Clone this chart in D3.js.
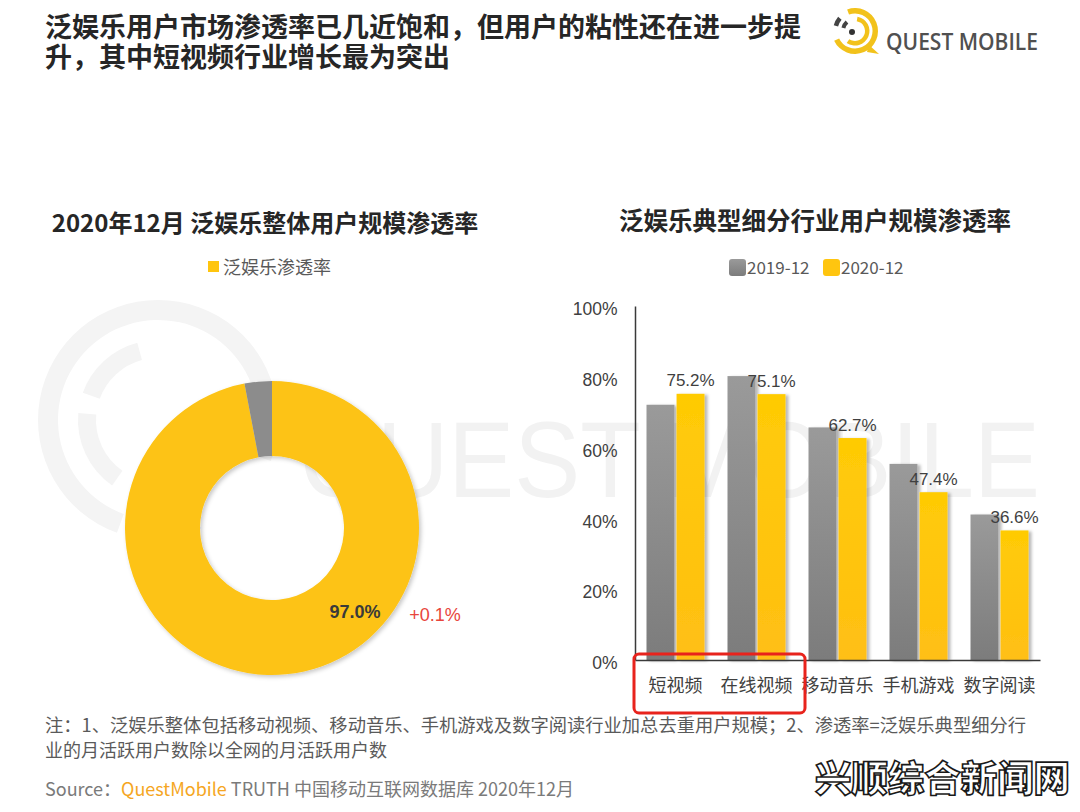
<!DOCTYPE html>
<html><head><meta charset="utf-8">
<script src="https://cdn.jsdelivr.net/npm/d3@7"></script>
<style>
html,body{margin:0;padding:0;background:#fff;}
svg{display:block;}
</style></head>
<body>
<svg id="chart" width="1080" height="812"></svg>
<script>
// ---------- data ----------
const titleLines = ["泛娱乐用户市场渗透率已几近饱和，但用户的粘性还在进一步提", "升，其中短视频行业增长最为突出"];
const logoText = "QUEST MOBILE";
const leftTitle = "2020年12月 泛娱乐整体用户规模渗透率";
const donutLegend = "泛娱乐渗透率";
const donutNames = ["泛娱乐渗透率", "其他"];
const donutValues = [97.0, 3.0];
const donutValueLabel = "97.0%";
const donutChangeLabel = "+0.1%";
const rightTitle = "泛娱乐典型细分行业用户规模渗透率";
const categories = ["短视频", "在线视频", "移动音乐", "手机游戏", "数字阅读"];
const seriesNames = ["2019-12", "2020-12"];
const values2019 = [72.1, 80.2, 65.7, 55.4, 41.1];
const values2020 = [75.2, 75.1, 62.7, 47.4, 36.6];
const yTicks = [0, 20, 40, 60, 80, 100];
const noteLines = ["注：1、泛娱乐整体包括移动视频、移动音乐、手机游戏及数字阅读行业加总去重用户规模；2、渗透率=泛娱乐典型细分行", "业的月活跃用户数除以全网的月活跃用户数"];
const sourceParts = ["Source：", "QuestMobile", " TRUTH 中国移动互联网数据库 2020年12月"];
const siteMark = "兴顺综合新闻网";

// ---------- setup ----------
const CJK = "'Noto Sans CJK SC','Noto Sans',sans-serif";
const LAT = "'Liberation Sans',Arial,sans-serif";
const YEL = "#FFC50F", GRY = "#8c8c8c";
const svg = d3.select("#chart");
svg.append("rect").attr("width",1080).attr("height",812).attr("fill","#fff");

const defs = svg.append("defs");
const gG = defs.append("linearGradient").attr("id","gGray").attr("x1",0).attr("y1",0).attr("x2",0).attr("y2",1);
gG.append("stop").attr("offset","0%").attr("stop-color","#9a9a9a");
gG.append("stop").attr("offset","100%").attr("stop-color","#7c7c7c");
const gY = defs.append("linearGradient").attr("id","gYel").attr("x1",0).attr("y1",0).attr("x2",0).attr("y2",1);
gY.append("stop").attr("offset","0%").attr("stop-color","#FFCB05");
gY.append("stop").attr("offset","100%").attr("stop-color","#FFBF14");
const sh = defs.append("filter").attr("id","shadow").attr("x","-20%").attr("y","-20%").attr("width","160%").attr("height","140%");
sh.append("feDropShadow").attr("dx",3).attr("dy",1).attr("stdDeviation",1.8).attr("flood-color","#000").attr("flood-opacity",0.28);
const sh2 = defs.append("filter").attr("id","shadow2").attr("x","-10%").attr("y","-10%").attr("width","120%").attr("height","120%");
sh2.append("feDropShadow").attr("dx",2).attr("dy",2).attr("stdDeviation",2).attr("flood-color","#000").attr("flood-opacity",0.22);

// ---------- faint background watermark ----------
const wm = svg.append("g").attr("fill","none").attr("stroke","#f3f3f3");
const bigArc = d3.arc();
const wmC = [158, 420];
[[100,120,200,440],[62,80,290,345],[62,80,215,275],[100,120,445,470]].forEach(a=>{
  wm.append("path").attr("transform",`translate(${wmC})`)
    .attr("d", bigArc({innerRadius:a[0],outerRadius:a[1],startAngle:a[2]*Math.PI/180,endAngle:a[3]*Math.PI/180}))
    .attr("fill","#f4f4f4").attr("stroke","none");
});
svg.append("text").attr("x",300).attr("y",497).attr("font-family",LAT).attr("font-size",107)
  .attr("fill","#f2f2f2").attr("textLength",740).attr("lengthAdjust","spacingAndGlyphs").text(logoText);

// ---------- main title ----------
svg.append("g").selectAll("text").data(titleLines).join("text")
  .attr("x",45).attr("y",(d,i)=>37+i*30)
  .attr("font-family",CJK).attr("font-weight","bold").attr("font-size",27).attr("fill","#262626")
  .text(d=>d);

// ---------- top-right logo ----------
const lg = svg.append("g").attr("transform","translate(855,31)");
const la = d3.arc();
const deg = Math.PI/180;
lg.append("path").attr("d",la({innerRadius:17.5,outerRadius:23,startAngle:-20*deg,endAngle:245*deg})).attr("fill","#F2C21B");
lg.append("path").attr("d",la({innerRadius:10,outerRadius:14.5,startAngle:10*deg,endAngle:215*deg})).attr("fill","#F2C21B");
lg.append("path").attr("d",la({innerRadius:17.5,outerRadius:22,startAngle:285*deg,endAngle:310*deg})).attr("fill","#444");
lg.append("path").attr("d",la({innerRadius:10,outerRadius:14,startAngle:285*deg,endAngle:318*deg})).attr("fill","#444");
lg.append("circle").attr("cx",-3).attr("cy",1).attr("r",3).attr("fill","#333");
lg.append("path").attr("d","M14,14 L24,23 L12,21 Z").attr("fill","#F2C21B");
svg.append("text").attr("x",886).attr("y",50).attr("font-family","'Open Sans',sans-serif").attr("font-weight",600)
  .attr("font-size",23).attr("fill","#505050").attr("textLength",152).attr("lengthAdjust","spacingAndGlyphs").text(logoText);

// ---------- left: donut ----------
svg.append("text").attr("x",265).attr("y",232).attr("text-anchor","middle")
  .attr("font-family",CJK).attr("font-weight","bold").attr("font-size",24).attr("fill","#262626").text(leftTitle);
svg.append("rect").attr("x",208).attr("y",261).attr("width",11).attr("height",11).attr("fill",YEL);
svg.append("text").attr("x",223).attr("y",274).attr("font-family",CJK).attr("font-size",18).attr("fill","#595959").text(donutLegend);

const cx = 272, cy = 528;
const pie = d3.pie().sort(null).value(d=>d);
const arcs = pie(donutValues);
const arc = d3.arc().innerRadius(72).outerRadius(147);
const dg = svg.append("g").attr("transform",`translate(${cx},${cy})`).attr("filter","url(#shadow2)");
dg.selectAll("path").data(arcs).join("path")
  .attr("d",arc).attr("fill",(d,i)=>i===0?"#FDC314":GRY);
svg.append("text").attr("x",cx+83).attr("y",cy+90).attr("text-anchor","middle")
  .attr("font-family",LAT).attr("font-weight","bold").attr("font-size",18).attr("fill","#3a3a3a").text(donutValueLabel);
svg.append("text").attr("x",cx+163).attr("y",cy+93).attr("text-anchor","middle")
  .attr("font-family",LAT).attr("font-size",18).attr("fill","#E8453C").text(donutChangeLabel);

// ---------- right: grouped bars ----------
svg.append("text").attr("x",815).attr("y",230).attr("text-anchor","middle")
  .attr("font-family",CJK).attr("font-weight","bold").attr("font-size",24.5).attr("fill","#262626").text(rightTitle);

const legendX = [729, 823];
const lgd = svg.append("g").selectAll("g").data(seriesNames).join("g")
  .attr("transform",(d,i)=>`translate(${legendX[i]},259)`);
lgd.append("rect").attr("width",17).attr("height",17).attr("rx",3).attr("fill",(d,i)=>i===0?"url(#gGray)":YEL);
lgd.append("text").attr("x",18).attr("y",15).attr("font-family",CJK).attr("font-size",17).attr("fill","#595959").text(d=>d);

const x0 = d3.scaleBand().domain(categories).range([635,1040]);
const x1 = d3.scaleBand().domain(seriesNames).range([0,58]).paddingInner(0.07);
const y = d3.scaleLinear().domain([0,100]).range([660,306]);
const gOff = (x0.bandwidth()-58)/2;

const rows = categories.map((c,i)=>({cat:c, vals:[{s:seriesNames[0],v:values2019[i]},{s:seriesNames[1],v:values2020[i]}]}));
const bars = svg.append("g").attr("filter","url(#shadow)");
rows.forEach(r=>{
  bars.selectAll(null).data(r.vals).join("rect")
    .attr("x",d=>x0(r.cat)+gOff+x1(d.s)).attr("width",x1.bandwidth())
    .attr("y",d=>y(d.v)).attr("height",d=>y(0)-y(d.v))
    .attr("fill",(d,i)=>i===0?"url(#gGray)":"url(#gYel)");
});

// value labels (2020)
svg.append("g").selectAll("text").data(categories).join("text")
  .attr("x",(c)=>x0(c)+gOff+x1(seriesNames[1])+x1.bandwidth()/2)
  .attr("y",(c,i)=>y(values2020[i])-7.5)
  .attr("text-anchor","middle").attr("font-family",LAT).attr("font-size",17).attr("fill","#3f3f3f")
  .text((c,i)=>values2020[i].toFixed(1)+"%");

// y axis
const yAx = svg.append("g").attr("transform","translate(635,0)")
  .call(d3.axisLeft(y).tickValues(yTicks).tickSize(0).tickSizeOuter(0).tickPadding(17.5).tickFormat(d=>d+"%"));
yAx.select(".domain").attr("stroke","#3a3a3a").attr("stroke-width",1.5);
yAx.selectAll("text").attr("font-family",LAT).attr("font-size",17.5).attr("fill","#404040").attr("dy","0.5em");

// x axis
const xAx = svg.append("g").attr("transform","translate(0,660)")
  .call(d3.axisBottom(x0).tickSize(0).tickSizeOuter(0).tickPadding(22));
xAx.select(".domain").attr("stroke","#3a3a3a").attr("stroke-width",1.5);
xAx.selectAll("text").attr("font-family",CJK).attr("font-size",18).attr("fill","#404040").attr("dy","0.55em");

// red highlight box around first two categories
svg.append("rect").attr("x",x0(categories[0])-1).attr("y",654)
  .attr("width",x0(categories[1])+x0.bandwidth()-x0(categories[0])+9).attr("height",59)
  .attr("rx",5).attr("fill","none").attr("stroke","#E8231C").attr("stroke-width",3);

// ---------- footer ----------
svg.append("g").selectAll("text").data(noteLines).join("text")
  .attr("x",45).attr("y",(d,i)=>732+i*25)
  .attr("font-family",CJK).attr("font-size",18).attr("fill","#5a5a5a")
  .attr("textLength",(d,i)=>i===0?981:null).attr("lengthAdjust","spacingAndGlyphs")
  .text(d=>d);
const src = svg.append("text").attr("x",45).attr("y",796).attr("font-family",CJK).attr("font-size",18).attr("fill","#7a7a7a");
src.selectAll("tspan").data(sourceParts).join("tspan").attr("fill",(d,i)=>i===1?"#F5A623":"#7a7a7a").text(d=>d);

svg.append("text").attr("x",815).attr("y",792).attr("font-family",CJK).attr("font-weight",900).attr("font-size",36)
  .attr("fill","#fff").attr("stroke","#1a1a1a").attr("stroke-width",1.6)
  .attr("textLength",255).attr("lengthAdjust","spacingAndGlyphs").text(siteMark);
</script>
</body></html>
